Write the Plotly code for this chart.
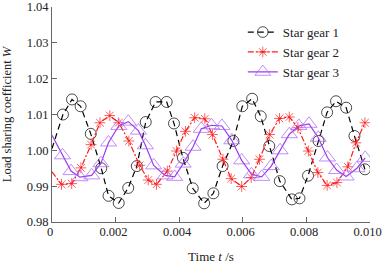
import plotly.graph_objects as go

# Star gear 1 (black, dashed, open circles)
t1 = [0, 0.000345, 0.00063, 0.0009, 0.00122, 0.00155, 0.00178, 0.0021, 0.0024, 0.00267, 0.00295,
      0.00326, 0.00361, 0.00384, 0.00412, 0.00443, 0.00479, 0.00508, 0.00537, 0.00571, 0.00599,
      0.0063, 0.00657, 0.00684, 0.00717, 0.00755, 0.00779, 0.00806, 0.00839, 0.00866, 0.00894,
      0.00926, 0.00952, 0.00985]
w1 = [1.0005, 1.0100, 1.0142, 1.0123, 1.0046, 0.9950, 0.9873, 0.9853, 0.9895, 0.9956, 1.0079,
      1.0135, 1.0135, 1.0075, 0.9979, 0.9894, 0.9852, 0.9880, 0.9956, 1.0026, 1.0123,
      1.0144, 1.0095, 1.0012, 0.9914, 0.9863, 0.9866, 0.9929, 1.0026, 1.0106, 1.0137,
      1.0119, 1.0040, 0.9947]

# Star gear 2 (red, dash-dot, asterisks)
t2 = [0, 0.0003, 0.00062, 0.00091, 0.00123, 0.00151, 0.00182, 0.0021, 0.00242, 0.00276, 0.00303,
      0.00329, 0.00363, 0.00392, 0.0042, 0.00449, 0.00481, 0.00505, 0.00538, 0.00564, 0.00597,
      0.00627, 0.00653, 0.00685, 0.00716, 0.00747, 0.00774, 0.00807, 0.00837, 0.00866, 0.00897,
      0.00931, 0.00957, 0.00985]
w2 = [0.9940, 0.9905, 0.9907, 0.9951, 1.0016, 1.0077, 1.0097, 1.0077, 1.0026, 0.9958, 0.9917,
      0.9905, 0.9942, 0.9998, 1.0053, 1.0091, 1.0088, 1.0044, 0.9975, 0.9921, 0.9899,
      0.9924, 0.9975, 1.0044, 1.0089, 1.0093, 1.0063, 0.9998, 0.9938, 0.9902, 0.9910,
      0.9954, 1.0021, 1.0077]

# Star gear 3 (purple, solid, open triangles)
t3 = [0, 0.00033, 0.0006, 0.00088, 0.00125, 0.00154, 0.00178, 0.0021, 0.0024, 0.00272, 0.00294,
      0.0032, 0.00356, 0.00386, 0.00413, 0.00444, 0.0047, 0.00502, 0.00535, 0.00566, 0.00597,
      0.00628, 0.0066, 0.0069, 0.00718, 0.00747, 0.00777, 0.00809, 0.00838, 0.00867, 0.00896,
      0.00926, 0.0096, 0.00986]
w3 = [1.0042, 0.9986, 0.9942, 0.9925, 0.9930, 0.9964, 1.0022, 1.0068, 1.0080, 1.0055, 1.0014,
      0.9958, 0.9930, 0.9926, 0.9963, 1.0010, 1.0060, 1.0070, 1.0068, 1.0028, 0.9972,
      0.9933, 0.9926, 0.9956, 1.0000, 1.0045, 1.0068, 1.0074, 1.0035, 0.9980, 0.9945,
      0.9927, 0.9950, 0.9979]

names = ["Star gear 1", "Star gear 2", "Star gear 3"]
x_ticks = [0, 0.002, 0.004, 0.006, 0.008, 0.010]
x_tick_text = ["0", "0.002", "0.004", "0.006", "0.008", "0.010"]
y_ticks = [0.98, 0.99, 1.00, 1.01, 1.02, 1.03, 1.04]
y_tick_text = ["0.98", "0.99", "1.00", "1.01", "1.02", "1.03", "1.04"]

FONT = "Liberation Serif, Times New Roman, serif"

def sizes(n, s):
    return [0] + [s] * (n - 1)

fig = go.Figure()
fig.add_trace(go.Scatter(
    x=t1, y=w1, name=names[0], mode="lines+markers",
    line=dict(color="black", width=1.2, dash="6px,4px"),
    marker=dict(symbol="circle-open", size=sizes(len(t1), 11), color="black",
                line=dict(width=1, color="black")),
))
fig.add_trace(go.Scatter(
    x=t2, y=w2, name=names[1], mode="lines+markers",
    line=dict(color="#ff1a1a", width=1.2, dash="6px,2px,2px,2px"),
    marker=dict(symbol="asterisk-open", size=sizes(len(t2), 9), color="#ff1a1a",
                line=dict(width=1, color="#ff1a1a")),
))
fig.add_trace(go.Scatter(
    x=t3, y=w3, name=names[2], mode="lines+markers",
    line=dict(color="#9a3cf0", width=1.2),
    marker=dict(symbol="triangle-up-open", size=sizes(len(t3), 14), color="#a85cf5",
                line=dict(width=1, color="#a85cf5")),
))

axis_common = dict(
    showgrid=False, zeroline=False, showline=True, linecolor="#666", linewidth=1,
    ticks="inside", ticklen=5, tickcolor="#666", mirror=False,
    ticklabeloverflow="allow", automargin=False,
    tickfont=dict(family=FONT, size=12.5, color="#222"),
)
fig.update_xaxes(range=[0, 0.01001], tickvals=x_ticks, ticktext=x_tick_text,
                 ticklabelshift=-2, ticklabelstandoff=-2,
                 title=dict(text="Time <i>t</i> /s", font=dict(family=FONT, size=13, color="#222"),
                            standoff=13),
                 **axis_common)
fig.update_yaxes(range=[0.97999, 1.04001], tickvals=y_ticks, ticktext=y_tick_text,
                 title=dict(text="Load sharing coefficient <i>W</i>",
                            font=dict(family=FONT, size=12.5, color="#222"), standoff=12),
                 **axis_common)

fig.update_layout(
    width=383, height=264,
    margin=dict(l=52, r=13, t=7, b=42),
    paper_bgcolor="white", plot_bgcolor="white",
    font=dict(family=FONT, color="#222"),
    legend=dict(x=0.60, y=0.953, xanchor="left", yanchor="top",
                bgcolor="rgba(0,0,0,0)", font=dict(family=FONT, size=13, color="#222"),
                itemwidth=30, tracegroupgap=0),
    showlegend=True,
)

fig.write_html("out.html", config={"displayModeBar": False},
               post_script="document.body.style.margin='0';")
